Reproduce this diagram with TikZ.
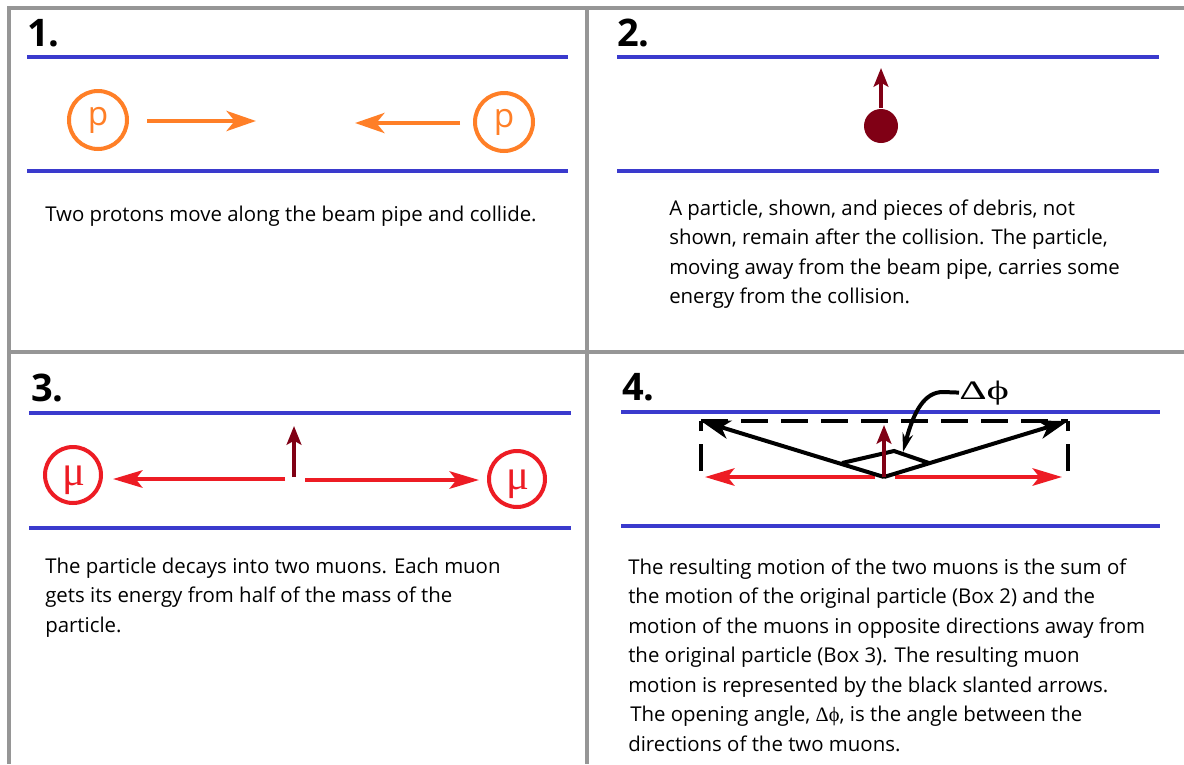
\documentclass[tikz,border=0pt]{standalone}
\usepackage{fontspec}
\setmainfont{Open Sans}
\newfontfamily\serifgreek{Liberation Serif}
\usetikzlibrary{arrows.meta}
\definecolor{frameGray}{RGB}{150,150,150}
\definecolor{pipeBlue}{RGB}{58,58,205}
\definecolor{pOrange}{RGB}{255,127,39}
\definecolor{muRed}{RGB}{237,28,36}
\definecolor{partRed}{RGB}{128,0,21}
\tikzset{
  frameline/.style={draw=frameGray, line width=2.4pt},
  pipe/.style={draw=pipeBlue, line width=3.4pt},
  numlabel/.style={font=\fontsize{28.5}{30}\selectfont\bfseries, anchor=base west, inner sep=0pt},
  capline/.style={font=\fontsize{15.3}{20}\selectfont, anchor=base west, inner sep=0pt},
  proton/.style={circle, draw=pOrange, line width=3pt, minimum size=43.5pt, inner sep=0pt, text=pOrange, font=\fontsize{25}{25}\selectfont},
  muon/.style={circle, draw=muRed, line width=3pt, minimum size=42pt, inner sep=0pt},
  muontext/.style={inner sep=0pt, text=muRed, font=\serifgreek\fontsize{32}{32}\selectfont},
  orangearrow/.style={draw=pOrange, line width=3.3pt, -{Stealth[length=22pt,width=15pt,inset=6pt]}},
  redarrow/.style={draw=muRed, line width=3.2pt, -{Stealth[length=22pt,width=13pt,inset=5pt]}},
  partarrow/.style={draw=partRed, line width=3pt, -{Stealth[length=14pt,width=11pt,inset=3pt]}},
  blackarrow/.style={draw=black, line width=3pt, -{Stealth[length=22pt,width=14pt,inset=6pt]}},
  dashbox/.style={draw=black, line width=3pt, dash pattern=on 20pt off 10pt},
}
\begin{document}
\begin{tikzpicture}[x=0.75pt,y=-0.75pt]
\fill[white] (0,0) rectangle (1184,764);
\useasboundingbox (0,0) rectangle (1184,764);
% frame
\draw[frameline] (1184,8) -- (9,8) -- (9,764);
\draw[frameline] (587,8) -- (587,764);
\draw[frameline] (9,352) -- (1184,352);

% ---------- Panel 1 ----------
\node[numlabel] (n1) at (27,46) {1.};
\draw[pipe] (27,57) -- (568,57);
\draw[pipe] (27,171) -- (568,171);
\node[proton] (p1) at (98,120) {p};
\node[proton] (p2) at (504,122) {p};
\coordinate (a1s) at (147,121); \coordinate (a1e) at (256,121);
\coordinate (a2s) at (460,123); \coordinate (a2e) at (355,123);
\draw[orangearrow] (a1s) -- (a1e);
\draw[orangearrow] (a2s) -- (a2e);
\node[capline] (t1) at (45,221) {Two protons move along the beam pipe and collide.};

% ---------- Panel 2 ----------
\node[numlabel] (n2) at (617,46) {2.};
\draw[pipe] (617,57) -- (1159,57);
\draw[pipe] (617,171) -- (1159,171);
\node[circle, fill=partRed, minimum size=25.5pt, inner sep=0pt] (dot) at (881,126) {};
\coordinate (st2) at (881,108);
\coordinate (up2) at (881,68);
\draw[partarrow] (st2) -- (up2);
\node[capline] (t2a) at (669,215) {A particle, shown, and pieces of debris, not};
\node[capline] (t2b) at (669,244.5) {shown, remain after the collision. The particle,};
\node[capline] (t2c) at (669,274) {moving away from the beam pipe, carries some};
\node[capline] (t2d) at (669,303.5) {energy from the collision.};

% ---------- Panel 3 ----------
\node[numlabel] (n3) at (31,401) {3.};
\draw[pipe] (29,413) -- (571,413);
\draw[pipe] (29,528) -- (571,528);
\node[muon] (m1) at (73,475) {};
\node[muon] (m2) at (517,479) {};
\node[muontext] (m1t) at (74,480) {μ};
\node[muontext] (m2t) at (518,484) {μ};
\coordinate (c3) at (294,477);
\coordinate (up3) at (294,426);
\coordinate (l3) at (285,479);
\coordinate (l3e) at (113,479);
\coordinate (r3) at (305,480);
\coordinate (r3e) at (479,480);
\draw[redarrow] (l3) -- (l3e);
\draw[redarrow] (r3) -- (r3e);
\draw[partarrow] (c3) -- (up3);
\node[capline] (t3a) at (45,573) {The particle decays into two muons. Each muon};
\node[capline] (t3b) at (45,602) {gets its energy from half of the mass of the};
\node[capline] (t3c) at (45,632) {particle.};

% ---------- Panel 4 ----------
\node[numlabel] (n4) at (622,400) {4.};
\draw[pipe] (621,412) -- (1160,412);
\draw[pipe] (621,526) -- (1160,526);
\coordinate (o) at (884,477);
\coordinate (tl) at (701,421);
\coordinate (tr) at (1068,421);
\coordinate (bl) at (701,471);
\coordinate (br) at (1068,471);
\draw[dashbox] (tl) -- (tr);
\draw[dashbox] (bl) -- (tl);
\draw[dashbox] (br) -- (tr);
\coordinate (rl) at (875,477); \coordinate (rle) at (705,477);
\coordinate (rr) at (895,477); \coordinate (rre) at (1062,477);
\draw[redarrow] (rl) -- (rle);
\draw[redarrow] (rr) -- (rre);
\draw[blackarrow] (o) -- (tl);
\draw[blackarrow] (o) -- (tr);
\coordinate (cv1) at (842,463);
\coordinate (cv2) at (894,451);
\coordinate (cv3) at (929,463);
\draw[black, line width=3pt, line join=miter] (cv1) -- (cv2) -- (cv3);
\draw[partarrow] (o) -- (884,425);
\node[anchor=base west, inner sep=0pt, font=\serifgreek\fontsize{20}{20}\selectfont] (dphi) at (959,399) {\scalebox{1.6}[1]{Δϕ}};
\coordinate (pt) at (903,452);
\draw[black, line width=3pt, -{Stealth[length=14pt,width=8pt]}] (dphi.west) -- (943,392) .. controls (925,392) and (914,410) .. (pt);
\node[capline] (t4a) at (628,574) {The resulting motion of the two muons is the sum of};
\node[capline] (t4b) at (628,603.5) {the motion of the original particle (Box 2) and the};
\node[capline] (t4c) at (628,633) {motion of the muons in opposite directions away from};
\node[capline] (t4d) at (628,662.5) {the original particle (Box 3). The resulting muon};
\node[capline] (t4e) at (628,692) {motion is represented by the black slanted arrows.};
\node[capline] (t4f) at (630,721.5) {The opening angle, {\serifgreek Δϕ}, is the angle between the};
\node[capline] (t4g) at (628,751) {directions of the two muons.};
\end{tikzpicture}
\end{document}
